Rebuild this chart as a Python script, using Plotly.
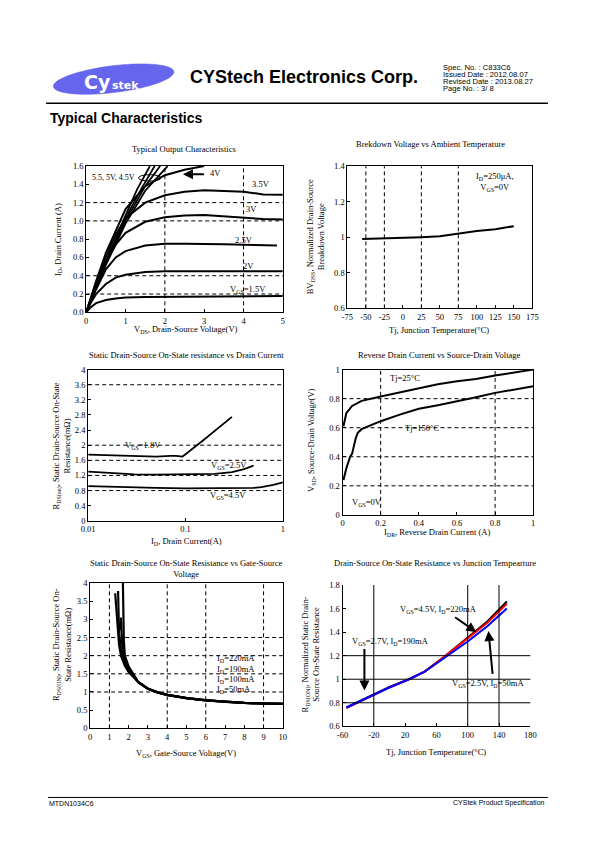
import math
import numpy as np
import plotly.graph_objects as go

W, H = 595, 842

# ---------------- DATA ----------------
# Chart 1: Typical output characteristics (VDS in V, ID in A)
vds_sat = [0, 0.1, 0.25, 0.5, 0.75, 1.0, 1.5, 2.0, 2.5, 3.0, 3.5, 4.0, 4.5, 5.0]
id_vgs15 = [0, 0.05, 0.10, 0.135, 0.152, 0.162, 0.168, 0.170, 0.172, 0.174, 0.175, 0.176, 0.177, 0.177]
id_vgs20 = [0, 0.09, 0.20, 0.31, 0.38, 0.41, 0.44, 0.45, 0.45, 0.45, 0.45, 0.45, 0.45, 0.45]
vds_25 = [0, 0.1, 0.25, 0.5, 0.75, 1.0, 1.5, 2.0, 2.5, 3.0, 3.5, 4.0, 4.5, 4.85]
id_vgs25 = [0, 0.11, 0.25, 0.47, 0.60, 0.67, 0.73, 0.75, 0.75, 0.75, 0.745, 0.74, 0.735, 0.73]
id_vgs30 = [0, 0.12, 0.30, 0.55, 0.74, 0.87, 0.99, 1.04, 1.06, 1.065, 1.05, 1.03, 1.02, 1.015]
id_vgs35 = [0, 0.13, 0.32, 0.60, 0.85, 1.03, 1.20, 1.28, 1.32, 1.335, 1.33, 1.32, 1.29, 1.285]
vds_40 = [0, 0.25, 0.5, 1.0, 1.5, 2.0, 2.5, 3.0]
id_vgs40 = [0, 0.34, 0.65, 1.13, 1.38, 1.50, 1.56, 1.60]
vds_hi = [[0, 0.5, 1.0, 1.3, 1.62],
          [0, 0.5, 1.0, 1.4, 1.74],
          [0, 0.5, 1.0, 1.5, 1.88],
          [0, 0.5, 1.0, 1.5, 2.07]]
id_hi = [[0, 0.55, 1.06, 1.35, 1.60],
         [0, 0.54, 1.03, 1.35, 1.60],
         [0, 0.53, 1.00, 1.38, 1.60],
         [0, 0.52, 0.97, 1.33, 1.60]]

# Chart 2: breakdown voltage vs temperature
tj_bv = [-55, -25, -5, 25, 50, 75, 100, 125, 150]
bv_norm = [0.99, 0.993, 0.995, 1.0, 1.005, 1.02, 1.035, 1.045, 1.062]
tick2 = [-75, -50, -25, 0, 25, 50, 75, 100, 125, 150, 175]

# Chart 3: RDS(on) vs ID (log x)
id_18 = [0.01, 0.02, 0.03, 0.05, 0.07, 0.08, 0.093, 0.1, 0.15, 0.2, 0.3]
r_18 = [1.75, 1.73, 1.71, 1.70, 1.72, 1.72, 1.70, 1.76, 2.12, 2.38, 2.75]
id_25 = [0.01, 0.02, 0.03, 0.05, 0.1, 0.2, 0.3, 0.4, 0.5]
r_25 = [1.30, 1.25, 1.23, 1.22, 1.22, 1.24, 1.29, 1.37, 1.46]
id_45 = [0.01, 0.02, 0.05, 0.1, 0.2, 0.4, 0.5, 0.6, 0.8, 1.0]
r_45 = [0.92, 0.89, 0.87, 0.86, 0.86, 0.86, 0.87, 0.89, 0.95, 1.02]
tick3 = [0.01, 0.1, 1]

# Chart 4: reverse drain current vs source-drain voltage
idr_25 = [0.005, 0.02, 0.05, 0.1, 0.2, 0.3, 0.4, 0.5, 0.6, 0.7, 0.8, 0.9, 1.0]
vsd_25 = [0.61, 0.70, 0.75, 0.785, 0.815, 0.845, 0.87, 0.90, 0.92, 0.935, 0.96, 0.98, 1.0]
idr_150 = [0.005, 0.02, 0.04, 0.05, 0.07, 0.08, 0.1, 0.2, 0.3, 0.4, 0.5, 0.6, 0.7, 0.8, 0.9, 1.0]
vsd_150 = [0.24, 0.32, 0.40, 0.42, 0.53, 0.565, 0.59, 0.645, 0.69, 0.73, 0.755, 0.78, 0.81, 0.84, 0.865, 0.885]

# Chart 5: RDS(on) vs VGS
vgs_tail = [2.5, 3, 3.5, 4, 5, 6, 7, 8, 9, 10]
r_tail = [1.27, 1.09, 0.99, 0.92, 0.83, 0.77, 0.73, 0.70, 0.68, 0.67]
vgs_50 = [1.3, 1.4, 1.5, 1.6, 1.8, 2.0]
r_50 = [3.72, 2.9, 2.3, 2.0, 1.72, 1.55]
vgs_100 = [1.45, 1.5, 1.6, 1.8, 2.0]
r_100 = [3.78, 2.6, 2.2, 1.8, 1.6]
vgs_190 = [1.58, 1.6, 1.65, 1.8, 2.0]
r_190 = [2.7, 3.05, 2.4, 1.9, 1.65]
vgs_220 = [1.7, 1.72, 1.75, 1.8, 2.0]
r_220 = [4.0, 3.0, 2.4, 2.0, 1.7]

# Chart 6: normalized RDS(on) vs junction temperature
tj_r = [-55, -20, 0, 25, 45, 70, 100, 125, 150]
rn_45 = [0.76, 0.87, 0.935, 1.0, 1.065, 1.19, 1.35, 1.49, 1.66]
rn_27 = [0.755, 0.865, 0.93, 1.0, 1.065, 1.19, 1.35, 1.48, 1.64]
rn_25 = [0.76, 0.87, 0.93, 1.0, 1.065, 1.18, 1.32, 1.45, 1.60]
tick6 = [-60, -20, 20, 60, 100, 140, 180]

# grid line values
g1x, g1y = [2, 4], [0.2, 0.4, 1.0, 1.2]
g2x = [-50, -25, 25, 75]
g3x = [0.05, 0.07, 0.08, 0.2, 0.3, 0.4, 0.5, 0.6, 0.7, 0.8, 0.9]
g3y = [0.8, 1.2, 1.6, 2.0, 3.6]
g4x, g4y = [0.2, 0.8], [0.2, 0.4, 0.6, 0.8]
g5x, g5y = [1, 4, 6, 9], [1.0, 1.5, 2.0, 2.5]
g6x, g6y = [-20, 100, 140], [0.8, 1.0, 1.2]

# ---------------- FIGURE ----------------
SERIF = "Liberation Serif"
SANS = "Liberation Sans"
FS = 8.5


def px(x):
    return x / W


def py(y):
    return 1 - y / H


fig = go.Figure()

boxes = {
    1: (81, 282, 163, 311),
    2: (348, 537, 163, 307),
    3: (83, 282, 369, 522),
    4: (343, 538, 369, 516),
    5: (85, 282, 585, 732),
    6: (343, 535, 587, 730),
}


def axname(n, a):
    return f"{a}axis" if n == 1 else f"{a}axis{n}"


def ref(n, a):
    return a if n == 1 else f"{a}{n}"


def add_line(n, x, y, color="black", width=2):
    fig.add_trace(go.Scatter(x=x, y=y, mode="lines", xaxis=ref(n, "x"), yaxis=ref(n, "y"),
                             line=dict(color=color, width=width), hoverinfo="skip"))


def lab(v):
    return f"{v:g}".replace("\u2212", "-")


base = dict(showline=True, linecolor="black", linewidth=1, ticks="inside", ticklen=3,
            tickcolor="black", showgrid=False, zeroline=False, fixedrange=True,
            tickfont=dict(family=SERIF, size=FS, color="black"))

axes_cfg = {
    1: (dict(range=[0, 5], dtick=1), dict(range=[0, 1.6], dtick=0.2, tickformat=".1f"), True),
    2: (dict(range=[-75, 175], tickvals=tick2, ticktext=[lab(v) for v in tick2]),
        dict(range=[0.6, 1.4], dtick=0.2), True),
    3: (dict(type="log", range=[-2, 0], tickvals=tick3, ticktext=[lab(v) for v in tick3]),
        dict(range=[0, 4], dtick=0.4), True),
    4: (dict(range=[0, 1], dtick=0.2), dict(range=[0, 1], dtick=0.2), True),
    5: (dict(range=[0, 10], dtick=1), dict(range=[0, 4], dtick=0.5), True),
    6: (dict(range=[-60, 180], tickvals=tick6, ticktext=[lab(v) for v in tick6]),
        dict(range=[0.6, 1.8], dtick=0.2), False),
}

lay = {}
for n, (x0, x1, y0, y1) in boxes.items():
    xa, ya, mir = axes_cfg[n]
    xd = dict(base, domain=[px(x0), px(x1)], anchor=ref(n, "y"), mirror=mir, **xa)
    yd = dict(base, domain=[py(y1), py(y0)], anchor=ref(n, "x"), mirror=mir, **ya)
    lay[axname(n, "x")] = xd
    lay[axname(n, "y")] = yd

# ---- chart 1 curves
add_line(1, vds_sat, id_vgs15)
add_line(1, vds_sat, id_vgs20)
add_line(1, vds_25, id_vgs25)
add_line(1, vds_sat, id_vgs30)
add_line(1, vds_sat, id_vgs35)
add_line(1, vds_40, id_vgs40)
for vx, iy in zip(vds_hi, id_hi):
    add_line(1, vx, iy, width=1.8)
# ---- chart 2
add_line(2, tj_bv, bv_norm, width=2)
# ---- chart 3
add_line(3, id_18, r_18, width=1.8)
add_line(3, id_25, r_25, width=1.8)
add_line(3, id_45, r_45, width=1.8)
# ---- chart 4
add_line(4, idr_25, vsd_25, width=2)
add_line(4, idr_150, vsd_150, width=2)
# ---- chart 5
for vx, ry in [(vgs_50, r_50), (vgs_100, r_100), (vgs_190, r_190), (vgs_220, r_220)]:
    add_line(5, vx + vgs_tail, ry + r_tail, width=2.2)
# ---- chart 6
add_line(6, tj_r, rn_45, color="black", width=2)
add_line(6, tj_r, rn_27, color="#ff0000", width=2)
add_line(6, tj_r, rn_25, color="#0000ff", width=2)

shapes = []
DASH = "4px,3px"


def vgrid(n, vals, dash=DASH, log=False):
    for v in vals:
        xv = math.log10(v) if log else v
        shapes.append(dict(type="line", xref=ref(n, "x"), yref=ref(n, "y") + " domain",
                           x0=xv, x1=xv, y0=0, y1=1, line=dict(color="black", width=1, dash=dash)))


def hgrid(n, vals, dash=DASH):
    for v in vals:
        shapes.append(dict(type="line", xref=ref(n, "x") + " domain", yref=ref(n, "y"),
                           x0=0, x1=1, y0=v, y1=v, line=dict(color="black", width=1, dash=dash)))


vgrid(1, g1x); hgrid(1, g1y)
vgrid(2, g2x)
vgrid(3, g3x, log=True); vgrid(3, [0.1], dash="solid", log=True); hgrid(3, g3y)
vgrid(4, g4x); hgrid(4, g4y)
vgrid(5, g5x); hgrid(5, g5y)
vgrid(6, g6x, dash="solid"); hgrid(6, g6y, dash="solid")

# ellipse around high-VGS curves in chart 1
shapes.append(dict(type="circle", xref="x", yref="y", x0=1.33, x1=1.90, y0=1.435, y1=1.506,
                   line=dict(color="black", width=1)))

# header / footer decorations
cx, cy, rx, ry, rot = 109, 75, 62, 13.5, math.radians(-7)
t = np.linspace(0, 2 * math.pi, 73)
ex = cx + rx * np.cos(t) * math.cos(rot) - ry * np.sin(t) * math.sin(rot)
ey = cy + rx * np.cos(t) * math.sin(rot) + ry * np.sin(t) * math.cos(rot)
path = "M " + " L ".join(f"{px(a):.5f},{py(b):.5f}" for a, b in zip(ex, ey)) + " Z"
shapes.append(dict(type="path", xref="paper", yref="paper", path=path,
                   fillcolor="#6565ee", line=dict(color="#5a5ae0", width=0.5)))
shapes.append(dict(type="line", xref="paper", yref="paper", x0=px(40), x1=px(553), y0=py(99.5), y1=py(99.5),
                   line=dict(color="black", width=1.5)))
shapes.append(dict(type="line", xref="paper", yref="paper", x0=px(42), x1=px(553), y0=py(802), y1=py(802),
                   line=dict(color="black", width=1)))

ann = []


def A(text, x, y, size=FS, family=SERIF, xanchor="center", yanchor="middle", angle=0, color="black", bold=False):
    if bold:
        text = f"<b>{text}</b>"
    ann.append(dict(text=text, x=px(x), y=py(y), xref="paper", yref="paper", showarrow=False,
                    xanchor=xanchor, yanchor=yanchor, textangle=angle, borderpad=0,
                    font=dict(family=family, size=size, color=color)))


def D(n, text, x, y, xanchor="center", size=FS):
    ann.append(dict(text=text, x=x, y=y, xref=ref(n, "x"), yref=ref(n, "y"), showarrow=False,
                    xanchor=xanchor, yanchor="middle", font=dict(family=SERIF, size=size, color="black")))


def ARROW(n, tx, ty, hx, hy, w=2):
    ann.append(dict(text="", x=hx, y=hy, ax=tx, ay=ty, xref=ref(n, "x"), yref=ref(n, "y"),
                    axref=ref(n, "x"), ayref=ref(n, "y"), showarrow=True, arrowhead=2,
                    arrowsize=1.0, arrowwidth=w, arrowcolor="black"))


# header
A("Cy", 107, 78, size=19, family="DejaVu Sans", color="white", bold=True, xanchor="right")
A("stek", 106, 81, size=11, family="DejaVu Sans", color="white", bold=True, xanchor="left")
A("CYStech Electronics Corp.", 186.5, 73, size=18, family=SANS, xanchor="left", bold=True)
for i, s in enumerate(["Spec. No. : C833C6", "Issued Date : 2012.08.07",
                       "Revised Date : 2013.08.27", "Page No. : 3/ 8"]):
    A(s, 445, 63.5 + 7.1 * i, size=7.6, family=SANS, xanchor="left")
A("Typical Characteristics", 42.5, 114.5, size=14, family=SANS, xanchor="left", bold=True)
A("MTDN1034C6", 42, 808, size=7, family=SANS, xanchor="left")
A("CYStek Product Specification", 551, 808, size=7, family=SANS, xanchor="right")

# chart titles
A("Typical Output Characteristics", 181, 146)
A("Brekdown Voltage vs Ambient Temperature", 433, 141)
A("Static Drain-Source On-State resistance vs Drain Current", 183, 354)
A("Reverse Drain Current vs Source-Drain Voltage", 442, 354)
A("Static Drain-Source On-State Resistance vs Gate-Source<br>Voltage", 183, 570)
A("Drain-Source On-State Resistance vs Junction Tempearture", 438, 565)

# axis titles
A("V<sub>DS</sub>, Drain-Source Voltage(V)", 183, 328)
A("I<sub>D</sub>, Drain Current (A)", 52, 237, angle=-90)
A("Tj, Junction Temperature(°C)", 442, 328.5)
A("BV<sub>DSS</sub>, Normalized Drain-Source<br>Breakdown Voltage", 315, 235, angle=-90)
A("I<sub>D</sub>, Drain Current(A)", 183, 543)
A("R<sub>DS(on)</sub>, Static Drain-Source On-State<br>Resistance(mΩ)", 56, 446, angle=-90)
A("I<sub>DR</sub>, Reverse Drain Current (A)", 440, 534)
A("V<sub>SD</sub>, Source-Drain Voltage(V)", 312, 440, angle=-90)
A("V<sub>GS</sub>, Gate-Source Voltage(V)", 183, 758)
A("R<sub>DS(ON)</sub>, Static Drain-Source On-<br>State Resistance(mΩ)", 56, 647, angle=-90)
A("Tj, Junction Temperature(°C)", 439, 756)
A("R<sub>DS(ON)</sub>, Normalized Static Drain-<br>Source On-State Resistance", 310, 657, angle=-90)

# chart 1 labels
D(1, "5.5, 5V, 4.5V", 0.1, 1.47, xanchor="left", size=8)
D(1, "4V", 3.28, 1.52)
D(1, "3.5V", 4.45, 1.40)
D(1, "3V", 4.2, 1.13)
D(1, "2.5V", 4.0, 0.79)
D(1, "2V", 4.12, 0.51)
D(1, "V<sub>GS</sub>=1.5V", 4.12, 0.25)
ARROW(1, 3.03, 1.51, 2.46, 1.51)
# chart 2 labels
D(2, "I<sub>D</sub>=250μA,<br>V<sub>GS</sub>=0V", 96, 1.31, xanchor="left")
# chart 3 labels
D(3, "V<sub>GS</sub>=1.8V", math.log10(0.0365), 1.99)
D(3, "V<sub>GS</sub>=2.5V", math.log10(0.28), 1.47)
D(3, "V<sub>GS</sub>=4.5V", math.log10(0.274), 0.68)
# chart 4 labels
D(4, "Tj=25°C", 0.33, 0.94)
D(4, "Tj=150°C", 0.415, 0.60)
D(4, "V<sub>GS</sub>=0V", 0.128, 0.088)
# chart 5 labels
for txt, yv in [("I<sub>D</sub>=220mA", 1.91), ("I<sub>D</sub>=190mA", 1.62),
                ("I<sub>D</sub>=100mA", 1.34), ("I<sub>D</sub>=50mA", 1.06)]:
    D(5, txt, 6.5, yv, xanchor="left")
# chart 6 labels
D(6, "V<sub>GS</sub>=4.5V, I<sub>D</sub>=220mA", 11, 1.59, xanchor="left")
D(6, "V<sub>GS</sub>=2.7V, I<sub>D</sub>=190mA", -50, 1.32, xanchor="left")
D(6, "V<sub>GS</sub>=2.5V, I<sub>D</sub>=50mA", 77, 0.965, xanchor="left")
ARROW(6, 82, 1.535, 111, 1.40)
ARROW(6, -32, 1.27, -32, 0.905)
ARROW(6, 132, 1.033, 126.5, 1.41)

fig.update_layout(width=W, height=H, margin=dict(l=0, r=0, t=0, b=0), autosize=False,
                  paper_bgcolor="white", plot_bgcolor="white", showlegend=False,
                  font=dict(family=SERIF, size=FS, color="black"),
                  shapes=shapes, annotations=ann, **lay)

fig.write_html("out.html", config={"displayModeBar": False},
               post_script="document.body.style.margin='0';document.body.style.overflow='hidden';")
